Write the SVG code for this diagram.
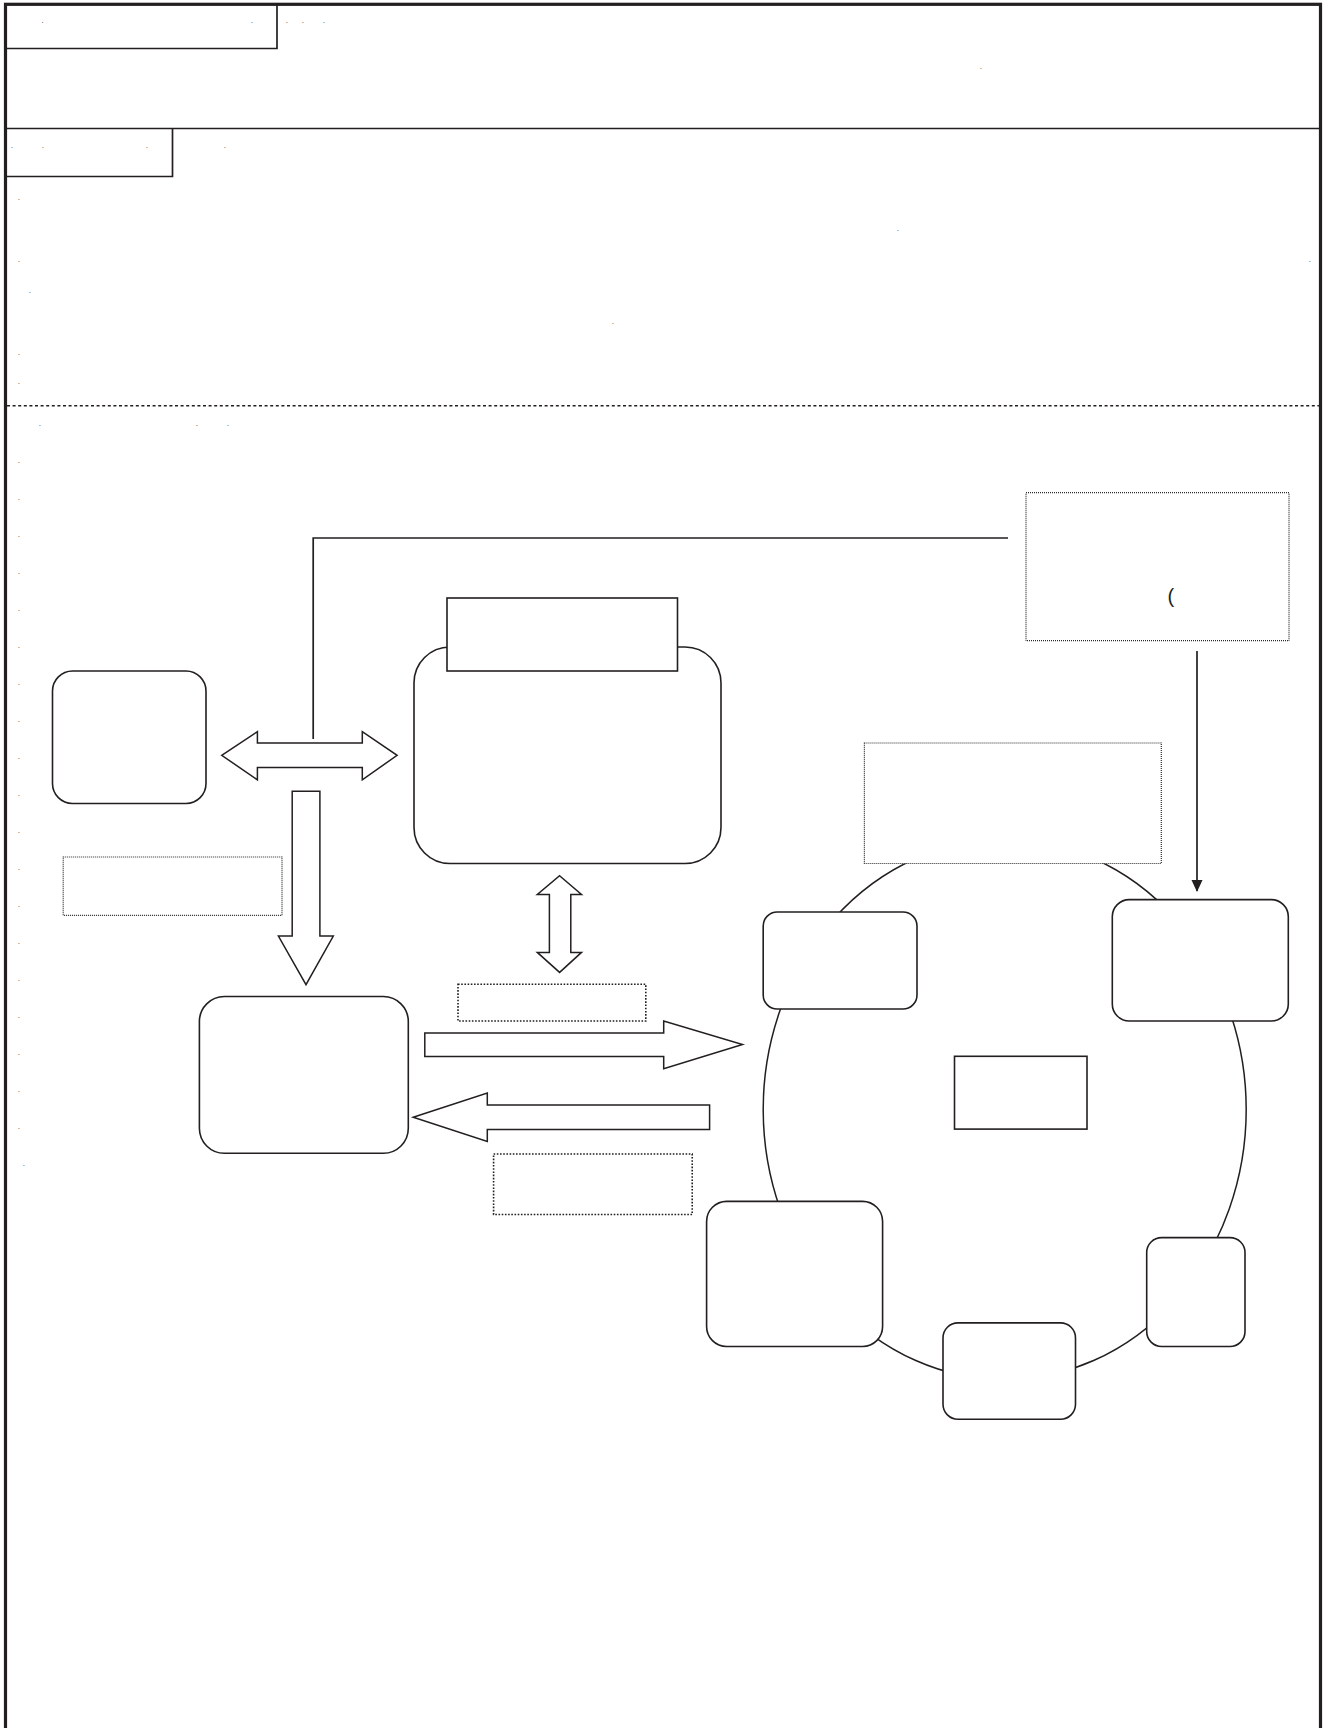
<svg xmlns="http://www.w3.org/2000/svg" width="1328" height="1728" viewBox="0 0 1328 1728">
<style>
.frame{fill:none;stroke:#231f20;stroke-width:3.2}
.ln{fill:none;stroke:#231f20;stroke-width:1.7}
.node{fill:#fff;stroke:#231f20;stroke-width:1.6}
.dot1{fill:#fff;stroke:#2a2a2a;stroke-width:1.2;stroke-dasharray:1 1}
.dot2{fill:#fff;stroke:#231f20;stroke-width:1.6;stroke-dasharray:1.6 1.6}
.arr{fill:#fff;stroke:#231f20;stroke-width:1.5;stroke-linejoin:miter}
.t{font-family:"Liberation Sans",Arial,sans-serif;font-size:8px;fill:#333}
.p{font-family:"Liberation Sans",Arial,sans-serif;font-size:20px;fill:#231f20}
</style>
<defs>
<marker id="ah" markerWidth="12" markerHeight="12" refX="11" refY="6" orient="auto" markerUnits="userSpaceOnUse">
<path d="M0,0.5 L12,6 L0,11.5 Z" fill="#231f20"/>
</marker>
</defs>
<rect width="1328" height="1728" fill="#fff"/>
<g id="frame">
<rect class="frame" x="5.5" y="4.3" width="1315" height="1740"/>
<line class="ln" x1="5" y1="128.5" x2="1320" y2="128.5"/>
<polyline class="ln" points="5,48.5 277,48.5 277,4"/>
<polyline class="ln" points="5,176.5 172.5,176.5 172.5,128"/>
<line x1="7" y1="405.7" x2="1320" y2="405.7" stroke="#231f20" stroke-width="1.5" stroke-dasharray="3 2.6"/>
</g>
<g id="texts">
<text class="t" x="41.5" y="22.5">.</text><text class="t" x="250.8" y="22.5">.</text><text class="t" x="285.8" y="22.5">.</text><text class="t" x="301.8" y="22.5">.</text><text class="t" x="322.8" y="22.5">.</text>
<text class="t" x="979.8" y="68.5">.</text>
<text class="t" x="10.8" y="147.5">.</text><text class="t" x="41.8" y="147.5">.</text><text class="t" x="145.8" y="147.5">.</text><text class="t" x="223.8" y="147.5">.</text>
<text class="t" x="17.8" y="199.5">.</text><text class="t" x="896.8" y="230.5">.</text><text class="t" x="1308.8" y="261.5">.</text><text class="t" x="17.8" y="261.5">.</text><text class="t" x="28.8" y="292.5">.</text><text class="t" x="611.8" y="323.5">.</text><text class="t" x="17.8" y="354.5">.</text><text class="t" x="17.8" y="383.5">.</text>
<text class="t" x="38.8" y="425.5">.</text><text class="t" x="195.8" y="425.5">.</text><text class="t" x="226.8" y="425.5">.</text>
<text class="t" x="17.8" y="462.5">.</text><text class="t" x="17.8" y="499.5">.</text><text class="t" x="17.8" y="536.5">.</text><text class="t" x="17.8" y="573.5">.</text><text class="t" x="17.8" y="610.5">.</text><text class="t" x="17.8" y="647.5">.</text><text class="t" x="17.8" y="684.5">.</text><text class="t" x="17.8" y="721.5">.</text><text class="t" x="17.8" y="758.5">.</text><text class="t" x="17.8" y="795.5">.</text><text class="t" x="17.8" y="832.5">.</text><text class="t" x="17.8" y="869.5">.</text><text class="t" x="17.8" y="906.5">.</text><text class="t" x="17.8" y="943.5">.</text><text class="t" x="17.8" y="980.5">.</text><text class="t" x="17.8" y="1017.5">.</text><text class="t" x="17.8" y="1054.5">.</text><text class="t" x="17.8" y="1091.5">.</text><text class="t" x="17.8" y="1128.5">.</text>
<text class="t" x="22.8" y="1165.5">.</text>
</g>
<ellipse id="cycle" cx="1004.7" cy="1109.5" rx="241.5" ry="270" fill="none" stroke="#231f20" stroke-width="1.5"/>
<g id="connectors">
<polyline class="ln" points="313.2,739 313.2,538 1008,538"/>
<line class="ln" x1="1197" y1="651" x2="1197" y2="891" marker-end="url(#ah)"/>
<polygon class="arr" points="221.7,755.3 257.4,731.6 257.4,743 362.3,743 362.3,731.6 397.1,755.3 362.3,779.8 362.3,767.6 257.4,767.6 257.4,779.8"/>
<polygon class="arr" points="292.2,791.2 319.9,791.2 319.9,936 333.3,936 306,984.7 278.4,936 292.2,936"/>
<polygon class="arr" points="559.6,875.7 581.5,894.5 570.8,894.5 570.8,952.4 581.5,952.4 559.6,972.4 537.3,952.4 549.4,952.4 549.4,894.5 537.3,894.5"/>
<polygon class="arr" points="424.8,1033 663.7,1033 663.7,1021 742.5,1044.5 663.7,1068.8 663.7,1056.5 424.8,1056.5"/>
<polygon class="arr" points="413.2,1117.3 487.3,1093 487.3,1105 709.6,1105 709.6,1129.6 487.3,1129.6 487.3,1141.5"/>
</g>
<g id="n-left"><rect class="node" x="52.5" y="671" width="153.5" height="132.5" rx="20"/></g>
<g id="n-center"><rect class="node" x="414" y="647" width="307" height="216.5" rx="36"/></g>
<g id="n-center-head"><rect class="node" x="447" y="598" width="230.5" height="73"/></g>
<g id="n-bottomleft"><rect class="node" x="199.4" y="996.5" width="208.9" height="156.8" rx="25"/></g>
<g id="label-left"><rect class="dot1" x="63.2" y="857" width="218.8" height="58.3"/></g>
<g id="label-mid"><rect class="dot2" x="458" y="984.3" width="187.8" height="36.7"/></g>
<g id="label-low"><rect class="dot2" x="493.6" y="1154" width="198.6" height="60.5"/></g>
<g id="label-topright"><rect class="dot1" x="1026" y="492.7" width="263" height="148"/><text class="p" x="1167.5" y="603">(</text></g>
<g id="label-cycle"><rect class="dot1" x="864.4" y="743" width="296.9" height="120.5"/></g>
<g id="c-tl"><rect class="node" x="763.2" y="912" width="153.8" height="97" rx="14"/></g>
<g id="c-tr"><rect class="node" x="1112.3" y="899.6" width="176" height="121.4" rx="17"/></g>
<g id="c-center"><rect class="node" x="954.5" y="1056.3" width="132.5" height="72.8"/></g>
<g id="c-bl"><rect class="node" x="706.6" y="1201.4" width="176" height="145.1" rx="20"/></g>
<g id="c-b"><rect class="node" x="943" y="1322.9" width="132.5" height="96.4" rx="15"/></g>
<g id="c-br"><rect class="node" x="1146.7" y="1237.6" width="98.3" height="108.9" rx="15"/></g>
</svg>
